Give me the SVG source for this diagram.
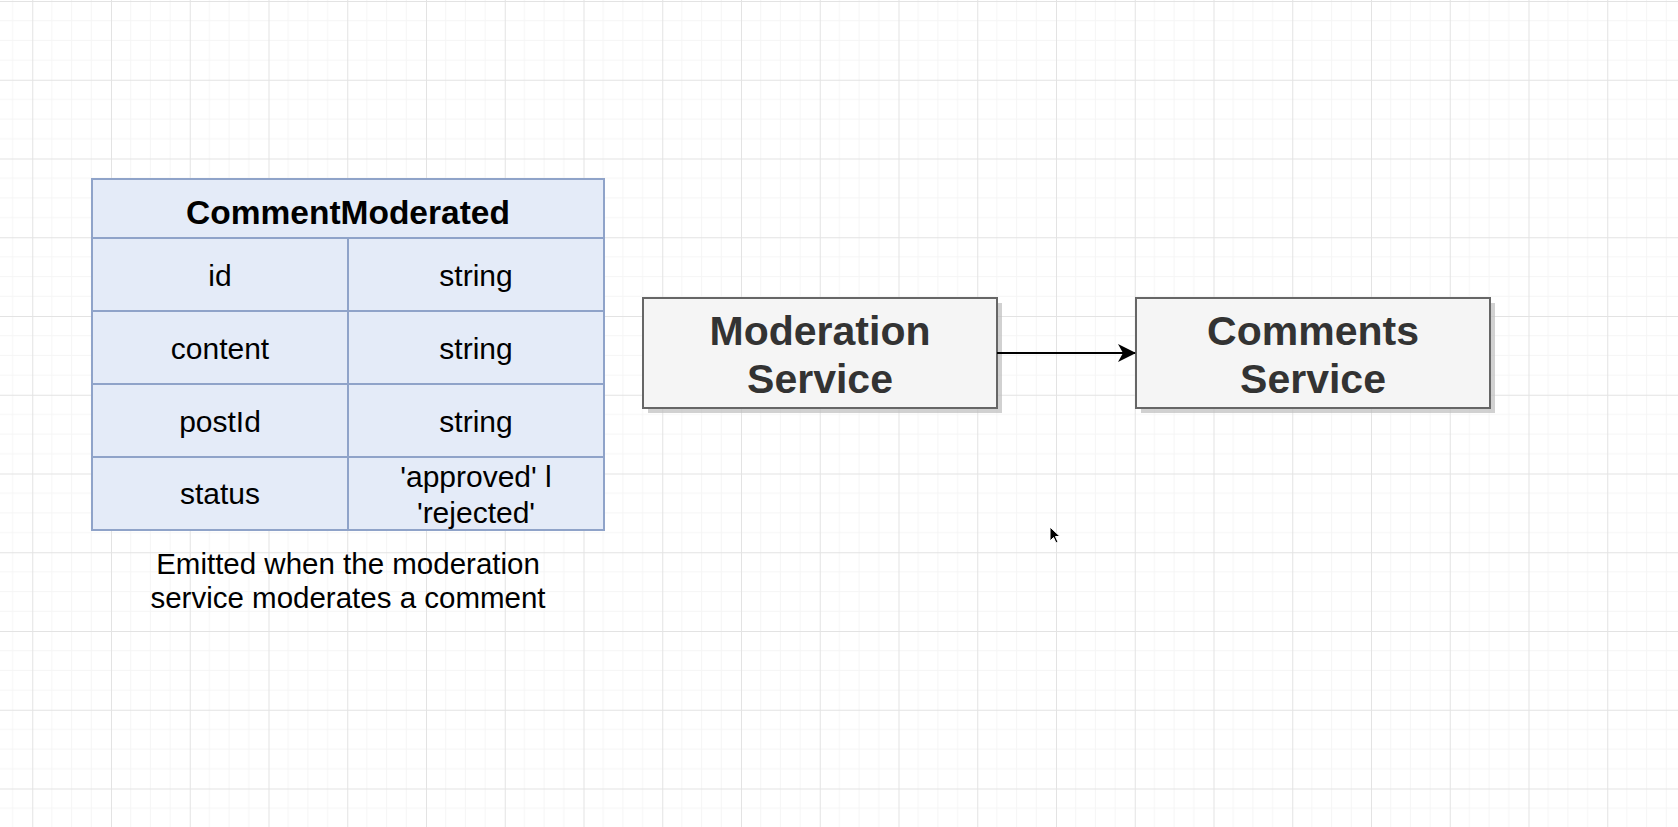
<svg xmlns="http://www.w3.org/2000/svg" width="1678" height="827" viewBox="0 0 1678 827">
  <defs>
    <pattern id="grid" x="32.25" y="1" width="78.75" height="78.75" patternUnits="userSpaceOnUse">
      <path d="M19.69 0V78.75M39.375 0V78.75M59.06 0V78.75M0 19.69H78.75M0 39.375H78.75M0 59.06H78.75" stroke="#f5f5f5" stroke-width="1" fill="none"/>
      <path d="M0.5 0V78.75M0 0.5H78.75" stroke="#e3e3e3" stroke-width="1" fill="none"/>
    </pattern>
    <marker id="arrow" viewBox="0 0 18 18" refX="17" refY="9" markerWidth="18" markerHeight="18" markerUnits="userSpaceOnUse" orient="auto">
      <path d="M0 0 L18 9 L0 18 L5 9 Z" fill="#000"/>
    </marker>
    <style>
      .cell { fill: #e4ebf8; stroke: #8fa3c9; stroke-width: 2; }
      .t { font-family: "Liberation Sans", Arial, sans-serif; font-size: 30px; fill: #000; text-anchor: middle; }
      .c { font-family: "Liberation Sans", Arial, sans-serif; font-size: 29.5px; fill: #000; text-anchor: middle; }
      .h { font-family: "Liberation Sans", Arial, sans-serif; font-size: 33.5px; font-weight: bold; fill: #000; text-anchor: middle; }
      .box { fill: #f5f5f5; stroke: #666666; stroke-width: 2; }
      .shadow { fill: #bdbdbd; opacity: 0.7; }
      .bt { font-family: "Liberation Sans", Arial, sans-serif; font-size: 41px; font-weight: bold; fill: #333333; text-anchor: middle; }
    </style>
  </defs>
  <rect x="0" y="0" width="1678" height="827" fill="#ffffff"/>
  <rect x="0" y="0" width="1678" height="827" fill="url(#grid)"/>

  <g id="table-commentmoderated">
    <rect class="cell" x="92" y="179" width="512" height="59"/>
    <text class="h" x="348" y="224">CommentModerated</text>
    <rect class="cell" x="92" y="238" width="256" height="73"/>
    <rect class="cell" x="348" y="238" width="256" height="73"/>
    <text class="t" x="220" y="286">id</text>
    <text class="t" x="476" y="286">string</text>
    <rect class="cell" x="92" y="311" width="256" height="73"/>
    <rect class="cell" x="348" y="311" width="256" height="73"/>
    <text class="t" x="220" y="359">content</text>
    <text class="t" x="476" y="359">string</text>
    <rect class="cell" x="92" y="384" width="256" height="73"/>
    <rect class="cell" x="348" y="384" width="256" height="73"/>
    <text class="t" x="220" y="432">postId</text>
    <text class="t" x="476" y="432">string</text>
    <rect class="cell" x="92" y="457" width="256" height="73"/>
    <rect class="cell" x="348" y="457" width="256" height="73"/>
    <text class="t" x="220" y="504">status</text>
    <text class="t" x="476" y="487">'approved' l</text>
    <text class="t" x="476" y="523">'rejected'</text>
  </g>

  <g id="caption">
    <text class="c" x="348" y="574">Emitted when the moderation</text>
    <text class="c" x="348" y="608">service moderates a comment</text>
  </g>

  <g id="moderation-service">
    <rect class="shadow" x="648" y="303" width="354" height="110"/>
    <rect class="box" x="643" y="298" width="354" height="110"/>
    <text class="bt" x="820" y="345">Moderation</text>
    <text class="bt" x="820" y="393">Service</text>
  </g>

  <g id="comments-service">
    <rect class="shadow" x="1141" y="303" width="354" height="110"/>
    <rect class="box" x="1136" y="298" width="354" height="110"/>
    <text class="bt" x="1313" y="345">Comments</text>
    <text class="bt" x="1313" y="393">Service</text>
  </g>

  <g id="connectors">
    <line x1="997" y1="353" x2="1135" y2="353" stroke="#000" stroke-width="2" marker-end="url(#arrow)"/>
  </g>

  <path d="M1050 527 L1050 541 L1053.5 537.5 L1056 543 L1058 542 L1055.5 536.5 L1060 536.5 Z" fill="#000" stroke="#fff" stroke-width="1"/>
</svg>
